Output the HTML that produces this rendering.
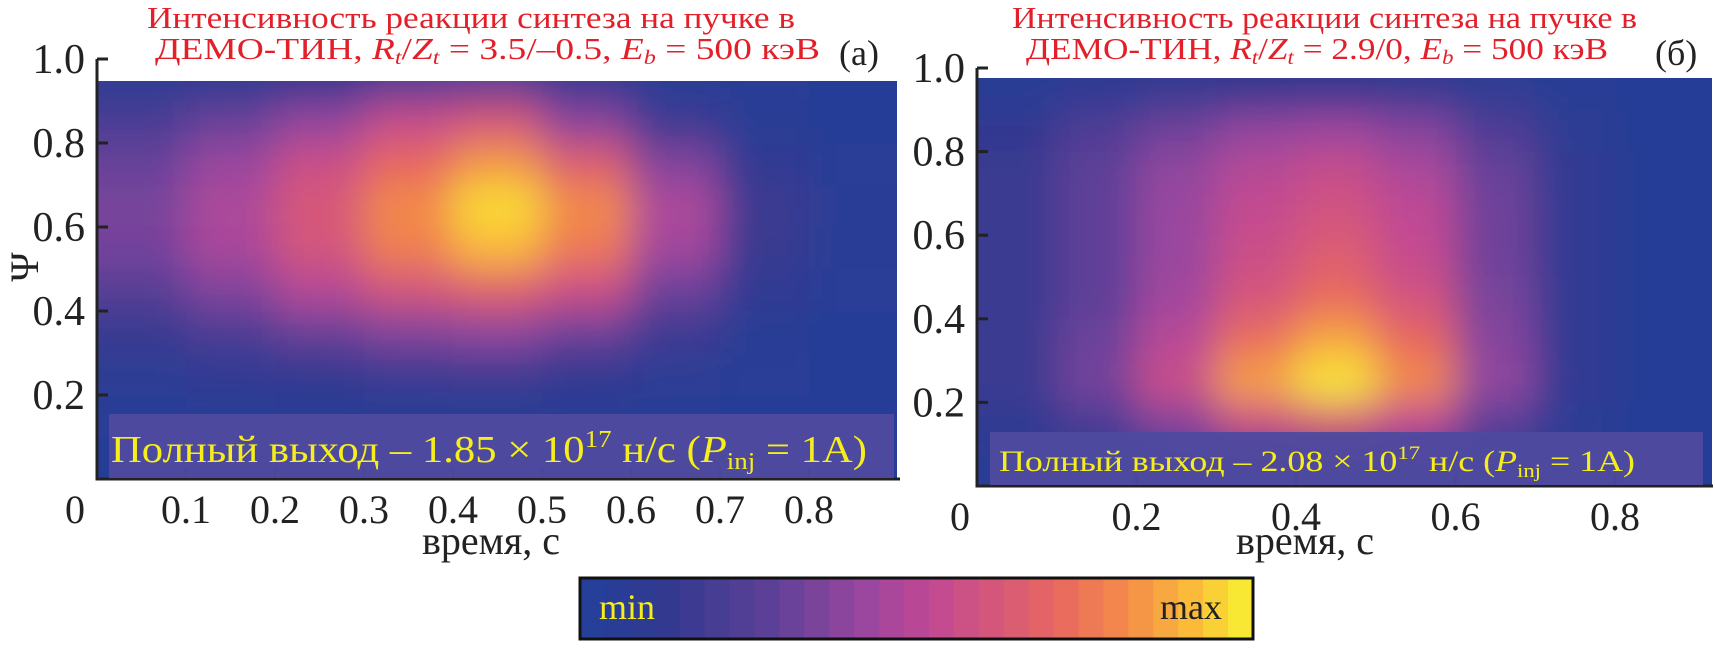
<!DOCTYPE html>
<html><head><meta charset="utf-8">
<style>
html,body{margin:0;padding:0;background:#fff;}
svg{display:block;font-family:"Liberation Serif","DejaVu Serif",serif;}
</style></head>
<body>
<svg id="chart" width="1715" height="648" viewBox="0 0 1715 648" xmlns="http://www.w3.org/2000/svg">
<defs>
  <clipPath id="clipA"><rect x="98" y="81" width="799" height="398"/></clipPath>
  <clipPath id="clipB"><rect x="978" y="78" width="734" height="408"/></clipPath>
  <filter id="blur" x="-20%" y="-20%" width="140%" height="140%"><feGaussianBlur stdDeviation="20"/></filter>
</defs>

<g fill="#e3202a" font-size="31">
  <text x="147" y="28" textLength="648" lengthAdjust="spacingAndGlyphs">Интенсивность реакции синтеза на пучке в</text>
  <text x="155" y="59" textLength="665" lengthAdjust="spacingAndGlyphs">ДЕМО-ТИН, <tspan font-style="italic">R</tspan><tspan font-style="italic" font-size="20" dy="5">t</tspan><tspan dy="-5">/</tspan><tspan font-style="italic">Z</tspan><tspan font-style="italic" font-size="20" dy="5">t</tspan><tspan dy="-5"> = 3.5/–0.5, </tspan><tspan font-style="italic">E</tspan><tspan font-style="italic" font-size="20" dy="5">b</tspan><tspan dy="-5"> = 500 кэВ</tspan></text>
</g>
<text x="839" y="65" font-size="36" fill="#222">(а)</text>
<g fill="#e3202a" font-size="31">
  <text x="1012" y="28" textLength="625" lengthAdjust="spacingAndGlyphs">Интенсивность реакции синтеза на пучке в</text>
  <text x="1026" y="59" textLength="582" lengthAdjust="spacingAndGlyphs">ДЕМО-ТИН, <tspan font-style="italic">R</tspan><tspan font-style="italic" font-size="20" dy="5">t</tspan><tspan dy="-5">/</tspan><tspan font-style="italic">Z</tspan><tspan font-style="italic" font-size="20" dy="5">t</tspan><tspan dy="-5"> = 2.9/0, </tspan><tspan font-style="italic">E</tspan><tspan font-style="italic" font-size="20" dy="5">b</tspan><tspan dy="-5"> = 500 кэВ</tspan></text>
</g>
<text x="1655" y="65" font-size="36" fill="#222">(б)</text>

<g id="heatA" clip-path="url(#clipA)"></g>
<g id="heatB" clip-path="url(#clipB)"></g>
<g id="axesA"></g>
<g id="axesB"></g>

<rect x="109" y="414" width="785" height="64" fill="#4e4a9f" opacity="0.95"/>
<text x="111" y="462" font-size="38" fill="#f6ee1c" textLength="756" lengthAdjust="spacingAndGlyphs">Полный выход – 1.85 × 10<tspan font-size="24" dy="-15">17</tspan><tspan dy="15"> н/с (</tspan><tspan font-style="italic">P</tspan><tspan font-size="24" dy="7">inj</tspan><tspan dy="-7"> = 1А)</tspan></text>
<rect x="990" y="432" width="713" height="53" fill="#4e4a9f" opacity="0.95"/>
<text x="999" y="471" font-size="30" fill="#f6ee1c" textLength="636" lengthAdjust="spacingAndGlyphs">Полный выход – 2.08 × 10<tspan font-size="19" dy="-12">17</tspan><tspan dy="12"> н/с (</tspan><tspan font-style="italic">P</tspan><tspan font-size="19" dy="6">inj</tspan><tspan dy="-6"> = 1А)</tspan></text>

<text transform="translate(38,267) rotate(-90)" text-anchor="middle" font-size="40" fill="#222">Ψ</text>
<text x="491" y="554" text-anchor="middle" font-size="40" fill="#222">время, с</text>
<text x="1305" y="554" text-anchor="middle" font-size="40" fill="#222">время, с</text>

<g id="cbar"></g>
<rect x="580" y="578" width="673" height="61" fill="none" stroke="#111" stroke-width="3"/>
<text x="599" y="619" font-size="36" fill="#f6ee1c">min</text>
<text x="1222" y="619" font-size="36" fill="#222" text-anchor="end">max</text>
</svg>

<script>
const timesA = [0.05,0.15,0.25,0.35,0.45,0.55,0.65,0.75,0.85];
const psiA = [0.95,0.85,0.75,0.65,0.55,0.45,0.35,0.25,0.15,0.05];
const valuesA = [
 [0.06,0.08,0.12,0.20,0.22,0.10,0.05,0.03,0.02],
 [0.20,0.30,0.40,0.55,0.62,0.38,0.15,0.05,0.02],
 [0.30,0.42,0.57,0.72,0.85,0.66,0.36,0.10,0.03],
 [0.34,0.47,0.63,0.82,0.98,0.82,0.47,0.16,0.04],
 [0.33,0.46,0.61,0.79,0.92,0.77,0.44,0.14,0.04],
 [0.25,0.36,0.49,0.61,0.68,0.57,0.31,0.09,0.03],
 [0.14,0.21,0.30,0.36,0.39,0.31,0.16,0.05,0.02],
 [0.06,0.09,0.12,0.15,0.16,0.12,0.06,0.03,0.02],
 [0.03,0.04,0.05,0.05,0.05,0.04,0.03,0.02,0.02],
 [0.02,0.02,0.02,0.03,0.03,0.02,0.02,0.02,0.02]
];
const timesB = [0.05,0.15,0.25,0.35,0.45,0.55,0.65,0.75,0.85];
const psiB = [0.95,0.85,0.75,0.65,0.55,0.45,0.35,0.25,0.15,0.05];
const valuesB = [
 [0.05,0.08,0.10,0.12,0.12,0.10,0.07,0.04,0.02],
 [0.12,0.22,0.32,0.40,0.43,0.37,0.22,0.07,0.02],
 [0.15,0.28,0.40,0.50,0.56,0.47,0.30,0.09,0.02],
 [0.15,0.28,0.42,0.54,0.60,0.52,0.32,0.09,0.02],
 [0.15,0.28,0.42,0.57,0.66,0.54,0.32,0.09,0.02],
 [0.15,0.28,0.44,0.62,0.73,0.60,0.34,0.09,0.02],
 [0.15,0.31,0.50,0.74,0.88,0.72,0.37,0.09,0.02],
 [0.15,0.33,0.57,0.87,1.00,0.82,0.40,0.09,0.02],
 [0.10,0.20,0.37,0.57,0.64,0.52,0.27,0.06,0.02],
 [0.04,0.06,0.09,0.11,0.11,0.09,0.05,0.03,0.02]
];
const xTicksA = [0.1,0.2,0.3,0.4,0.5,0.6,0.7,0.8];
const xTicksB = [0.2,0.4,0.6,0.8];
const yTicks = [0.2,0.4,0.6,0.8,1.0];
const yTickLabels = ["0.2","0.4","0.6","0.8","1.0"];

const stops = [[0,"#263f99"],[0.12,"#33398f"],[0.28,"#5f4198"],[0.42,"#9a479f"],[0.52,"#c04894"],[0.62,"#d5577a"],[0.72,"#e8685f"],[0.82,"#f38a4a"],[0.92,"#fbb83a"],[1,"#f8e834"]];
function hex(h){return [parseInt(h.substr(1,2),16),parseInt(h.substr(3,2),16),parseInt(h.substr(5,2),16)];}
function cmap(v){
  v=Math.max(0,Math.min(1,v));
  for(let i=1;i<stops.length;i++){ if(v<=stops[i][0]){
    const a=stops[i-1],b=stops[i],f=(v-a[0])/(b[0]-a[0]);
    const c1=hex(a[1]),c2=hex(b[1]);
    return "rgb("+c1.map((c,k)=>Math.round(c+(c2[k]-c)*f)).join(",")+")";}}
  return stops[stops.length-1][1];
}
const NS="http://www.w3.org/2000/svg";
function el(tag,attrs,parent){const e=document.createElementNS(NS,tag);for(const k in attrs)e.setAttribute(k,attrs[k]);parent.appendChild(e);return e;}

function drawPanel(cfg){
  const xs=t=>cfg.x0+t*cfg.xk, ys=p=>cfg.y0-p*cfg.yk;
  const heat=document.getElementById(cfg.heat);
  el("rect",{x:cfg.x0-50,y:ys(1.1),width:cfg.xk+100,height:cfg.yk*1.2,fill:cmap(0.02)},heat);
  const g=el("g",{filter:"url(#blur)"},heat);
  const dt=0.1,dp=0.1;
  cfg.times.forEach((t,i)=>{cfg.psi.forEach((p,j)=>{
    let l=t-dt/2,r=t+dt/2,top=p+dp/2,bot=p-dp/2;
    if(i===0)l-=0.1; if(i===cfg.times.length-1)r+=0.15;
    if(j===0)top+=0.1; if(j===cfg.psi.length-1)bot-=0.1;
    const c=el("rect",{x:xs(l),y:ys(top),width:xs(r)-xs(l)+0.5,height:ys(bot)-ys(top)+0.5,fill:cmap(cfg.values[j][i])},g);
    
    
  });});
  const ax=document.getElementById(cfg.axes);
  el("line",{x1:cfg.x0,y1:ys(1.0),x2:cfg.x0,y2:cfg.y0,stroke:"#222","stroke-width":3},ax);
  el("line",{x1:cfg.x0-1.5,y1:cfg.y0,x2:cfg.xEnd,y2:cfg.y0,stroke:"#222","stroke-width":3},ax);
  yTicks.forEach((v,i)=>{
    const tk=el("line",{x1:cfg.x0,y1:ys(v),x2:cfg.x0+11,y2:ys(v),stroke:"#222","stroke-width":3},ax);
    
    
    const tx=el("text",{x:cfg.x0-12,y:ys(v)+14,"text-anchor":"end","font-size":42,fill:"#222"},ax);
    tx.textContent=yTickLabels[i];
    
    
  });
  cfg.xticks.forEach(v=>{
    const tk=el("line",{x1:xs(v),y1:cfg.y0,x2:xs(v),y2:cfg.y0-11,stroke:"#222","stroke-width":3},ax);
    
    
    const tx=el("text",{x:xs(v),y:cfg.y0+44,"text-anchor":"middle","font-size":40,fill:"#222"},ax);
    tx.textContent=String(v);
    
    
  });
  const z=el("text",{x:cfg.zeroX,y:cfg.y0+44,"text-anchor":"middle","font-size":40,fill:"#222"},ax);
  z.textContent="0";
  
  
}
drawPanel({heat:"heatA",axes:"axesA",x0:97,xk:890,y0:479,yk:420,xEnd:900,times:timesA,psi:psiA,values:valuesA,xticks:xTicksA,zeroX:75});
drawPanel({heat:"heatB",axes:"axesB",x0:977,xk:797.5,y0:486,yk:418,xEnd:1713,times:timesB,psi:psiB,values:valuesB,xticks:xTicksB,zeroX:960});

const cbLevels = 27;
const cb=document.getElementById("cbar");
for(let i=0;i<cbLevels;i++){
  const w=673/cbLevels;
  const r=el("rect",{x:580+i*w,y:578,width:w+0.6,height:61,fill:cmap(i/(cbLevels-1))},cb);
  
  
}
</script>
</body></html>
